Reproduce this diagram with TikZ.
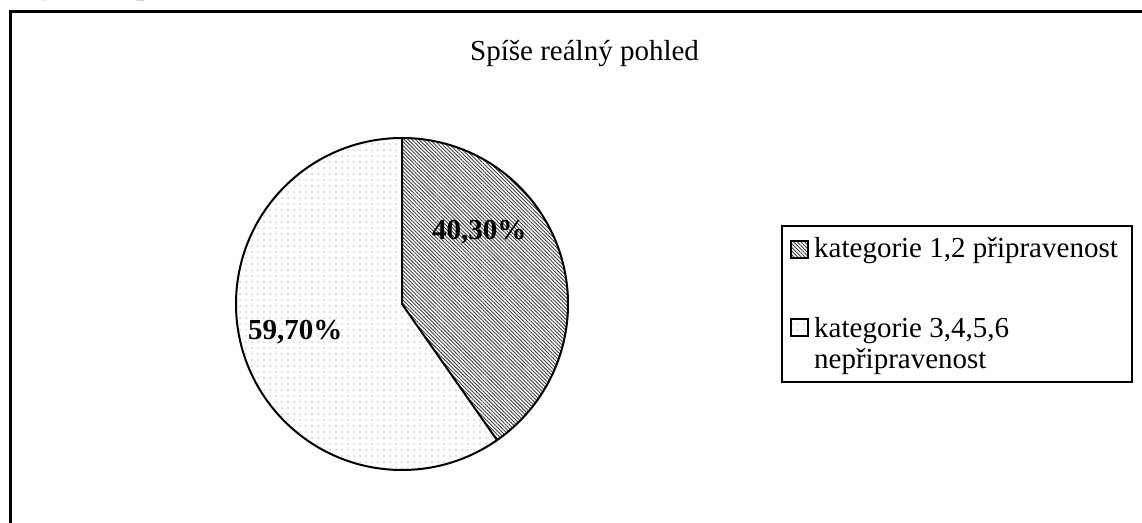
\documentclass[tikz,border=0pt]{standalone}
\usepackage{fontspec}
\setmainfont{Liberation Serif}
\usetikzlibrary{patterns.meta}

\tikzset{
  hatchfill/.style={pattern={Lines[angle=-45,distance=2.6pt,line width=0.9pt]},pattern color=black!75},
  dotfill/.style={pattern={Dots[distance=6pt,radius=0.6pt]},pattern color=black!50},
  txt/.style={font=\fontsize{29}{33}\selectfont,inner sep=0pt},
  pct/.style={font=\fontsize{29}{33}\selectfont\bfseries,inner sep=0pt},
}

\begin{document}
\begin{tikzpicture}[x=1pt,y=1pt]
        \useasboundingbox (0,0) rectangle (1142,522);
        % cut-off caption above the frame
        \node[txt,anchor=base] (capj) at (50,527) {\itshape\bfseries j};
        \node[txt,anchor=base] (capp) at (146,527) {\itshape\bfseries p};
        % outer frame
        \draw[line width=3pt] (10,-20) -- (10,510.5) -- (1160,510.5);
        \node[txt,anchor=base west] (title) at (470,461) {Spíše reálný pohled};
        % pie
        \coordinate (c) at (402,218);
        \fill[white] (c) circle (166);
        \fill[dotfill] (c) circle (166);
        \fill[white] (c) -- ++(90:166) arc (90:-55.08:166) -- cycle;
        \fill[hatchfill] (c) -- ++(90:166) arc (90:-55.08:166) -- cycle;
        \draw[line width=2pt] (c) circle (166);
        \draw[line width=2pt,line join=miter] (c) ++(90:166) -- (c) -- ++(-55.08:166);
        \node[pct,anchor=base west] (p1) at (432,282) {40,30\%};
        \node[pct,anchor=base west] (p2) at (248,182) {59,70\%};
        % legend
        \draw[line width=2pt] (782,296) rectangle (1132,140);
        \draw[hatchfill,line width=1.5pt] (791,264) rectangle (808,281);
        \draw[line width=1.5pt] (791,264) rectangle (808,281);
        \node[txt,anchor=base west] (key1) at (814,264) {kategorie 1,2 připravenost};
        \draw[dotfill,line width=1.5pt] (791,186) rectangle (808,203);
        \draw[line width=1.5pt] (791,186) rectangle (808,203);
        \node[txt,anchor=base west] (key2) at (814,184) {kategorie 3,4,5,6};
        \node[txt,anchor=base west] (key2b) at (814,153) {nepřipravenost};
      \end{tikzpicture}
\end{document}
